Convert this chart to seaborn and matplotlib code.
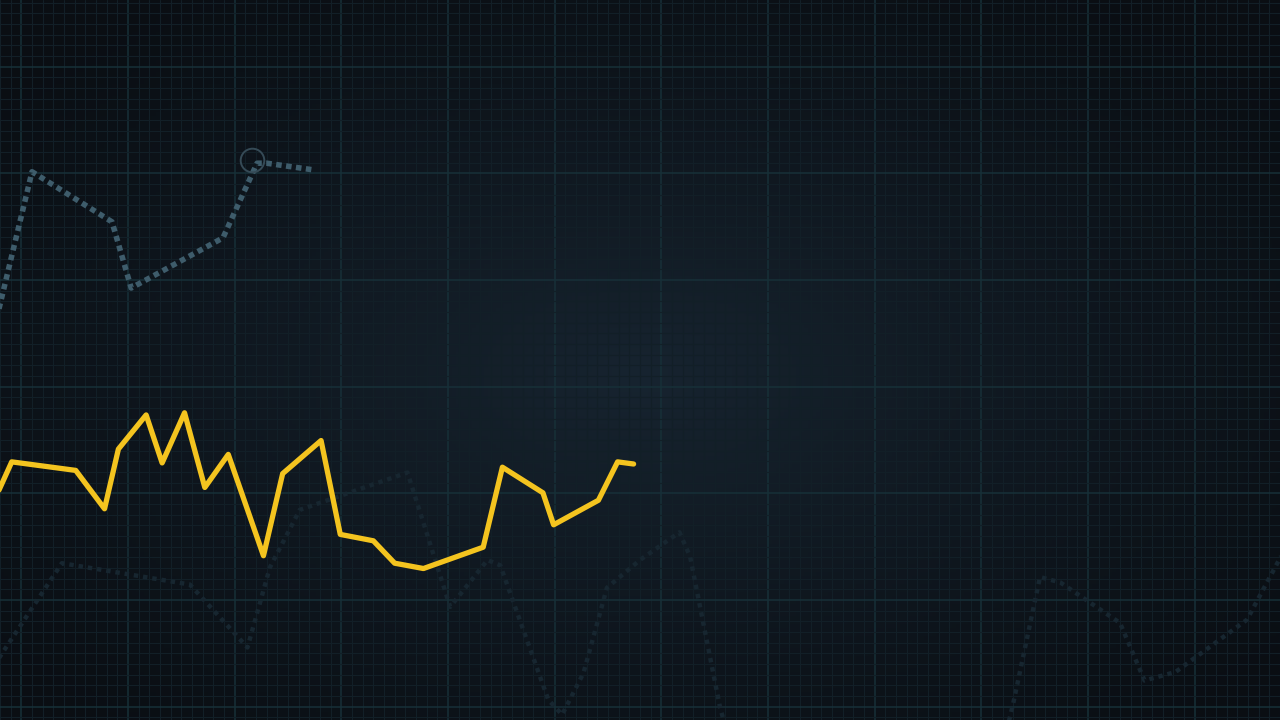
import numpy as np
import pandas as pd
import matplotlib
matplotlib.use("Agg")
import matplotlib.pyplot as plt
from matplotlib.ticker import MultipleLocator
import seaborn as sns

# main yellow series
main_x = [-0.03, 0.11, 0.71, 0.98, 1.11, 1.37, 1.52, 1.73, 1.92, 2.14, 2.47, 2.65,
          3.01, 3.19, 3.50, 3.70, 3.97, 4.53, 4.71, 5.09, 5.19, 5.61, 5.79, 5.94]
main_y = [2.11, 2.42, 2.34, 1.98, 2.54, 2.86, 2.41, 2.88, 2.18, 2.49, 1.54, 2.31,
          2.62, 1.74, 1.68, 1.47, 1.42, 1.62, 2.37, 2.13, 1.83, 2.06, 2.42, 2.40]

# upper dotted series
upper_x = [-0.03, 0.30, 1.05, 1.23, 2.09, 2.41, 2.50, 2.92]
upper_y = [3.77, 5.14, 4.67, 4.05, 4.52, 5.22, 5.22, 5.16]

# highlighted point on the upper series
hl_x = [2.36]
hl_y = [5.25]

# faint background series
ghost_x = [-0.05, 0.58, 1.78, 2.32, 2.53, 2.81, 3.82, 4.22, 4.57, 4.69, 5.14, 5.27,
           5.47, 5.69, 6.00, 6.37, 6.47, 6.75, 6.89, 8.06, 9.37, 9.50, 9.75, 9.94,
           10.50, 10.73, 11.02, 11.69, 12.05]
ghost_y = [0.52, 1.47, 1.27, 0.68, 1.43, 1.97, 2.32, 1.06, 1.50, 1.45, 0.19, 0.05,
           0.44, 1.24, 1.50, 1.76, 1.53, 0.12, -0.38, -0.75, -0.38, 0.16, 1.34, 1.29,
           0.91, 0.37, 0.45, 0.94, 1.61]

main = pd.DataFrame({"x": main_x, "y": main_y})
upper = pd.DataFrame({"x": upper_x, "y": upper_y})
ghost = pd.DataFrame({"x": ghost_x, "y": ghost_y})

sns.set_theme(style="dark")
fig = plt.figure(figsize=(12.8, 7.2), dpi=100)
ax = fig.add_axes([0, 0, 1, 1])
XMAX, YMAX = 12.0, 6.75

# vignette background
gx, gy = np.meshgrid(np.linspace(-1, 1, 320), np.linspace(-1, 1, 180))
r = np.sqrt(gx ** 2 + (gy + 0.05) ** 2)
t = np.clip(1 - r / 1.35, 0, 1) ** 1.3
edge = np.array([0x0a, 0x0e, 0x13]) / 255
center = np.array([0x17, 0x24, 0x30]) / 255
bg = edge + (center - edge) * t[..., None]
ax.imshow(bg, extent=[0, XMAX, 0, YMAX], aspect="auto", zorder=-10, origin="lower")

# grid
ax.xaxis.set_major_locator(MultipleLocator(1.0, offset=0.2))
ax.yaxis.set_major_locator(MultipleLocator(1.0, offset=0.125))
ax.xaxis.set_minor_locator(MultipleLocator(0.1, offset=0.0))
ax.yaxis.set_minor_locator(MultipleLocator(0.1, offset=0.025))
ax.grid(which="major", color="#173038", linewidth=1.1)
ax.grid(which="minor", color="#121f27", linewidth=0.8)
ax.set_axisbelow(True)
ax.tick_params(which="both", length=0, labelbottom=False, labelleft=False)
for s in ax.spines.values():
    s.set_visible(False)

sns.lineplot(data=ghost, x="x", y="y", sort=False, estimator=None, ax=ax,
             color="#172630", linewidth=3.2, linestyle=(0, (1, 1.1)),
             dash_capstyle="butt", zorder=2)
sns.lineplot(data=upper, x="x", y="y", sort=False, estimator=None, ax=ax,
             color="#3e5c6b", linewidth=4.0, linestyle=(0, (1, 0.8)),
             dash_capstyle="butt", zorder=3)
ax.plot(hl_x, hl_y, marker="o", markersize=17, markerfacecolor="none",
        markeredgecolor="#354a56", markeredgewidth=1.4, linestyle="none", zorder=4)
sns.lineplot(data=main, x="x", y="y", sort=False, estimator=None, ax=ax,
             color="#f4c41f", linewidth=3.8, zorder=5)

ax.set_xlim(0, XMAX)
ax.set_ylim(0, YMAX)
ax.set_xlabel("")
ax.set_ylabel("")
fig.savefig("out.png", dpi=100)
